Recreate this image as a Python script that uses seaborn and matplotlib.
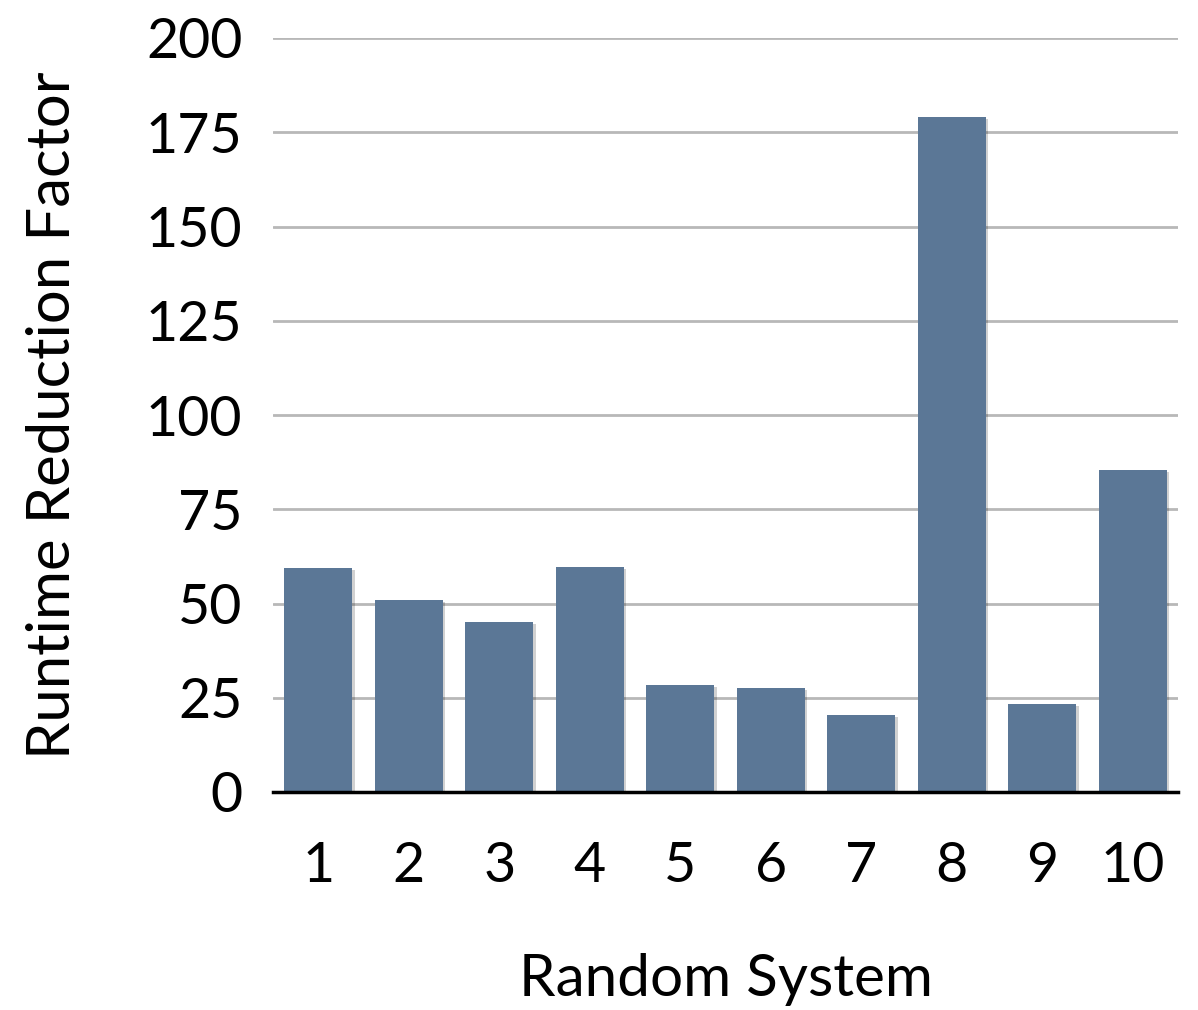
import matplotlib
matplotlib.use("Agg")
import matplotlib.pyplot as plt
import matplotlib.patheffects as pe
import pandas as pd
import seaborn as sns

systems = ["1", "2", "3", "4", "5", "6", "7", "8", "9", "10"]
reduction = [59.4, 50.9, 45.1, 59.6, 28.5, 27.7, 20.4, 179.1, 23.4, 85.4]
y_ticks = [0, 25, 50, 75, 100, 125, 150, 175, 200]

df = pd.DataFrame({"system": systems, "factor": reduction})

sns.set_theme(style="white")
plt.rcParams["font.family"] = ["Lato", "DejaVu Sans"]

fig = plt.figure(figsize=(11.98, 10.10), dpi=100)
ax = fig.add_axes([273 / 1198, 1 - 792 / 1010, (1178 - 273) / 1198, (792 - 38) / 1010])

sns.barplot(data=df, x="system", y="factor", order=systems, color="#5b7796",
            saturation=1, width=0.75, ax=ax, zorder=3)

for bar in ax.patches:
    bar.set_edgecolor("none")
    bar.set_path_effects([
        pe.SimplePatchShadow(offset=(2, -1.5), shadow_rgbFace="#000000", alpha=0.18),
        pe.Normal(),
    ])

ax.set_ylim(0, 200)
ax.set_xlim(-0.5, len(systems) - 0.5)
ax.set_yticks(y_ticks)
ax.yaxis.grid(True, color="#b8b8b8", linewidth=2, zorder=0)
ax.xaxis.grid(False)
ax.set_axisbelow(True)

for side in ["left", "right", "top"]:
    ax.spines[side].set_visible(False)
ax.spines["bottom"].set_color("black")
ax.spines["bottom"].set_linewidth(2.5)
ax.spines["bottom"].set_zorder(5)

ax.tick_params(axis="both", length=0, labelsize=40, colors="black")
ax.tick_params(axis="y", pad=22)
ax.tick_params(axis="x", pad=35)

ax.set_xlabel("Random System", fontsize=42, labelpad=44, color="black")
ax.set_ylabel("Runtime Reduction Factor", fontsize=43, labelpad=47, color="black")

fig.savefig("out.png", dpi=100, facecolor="white")
